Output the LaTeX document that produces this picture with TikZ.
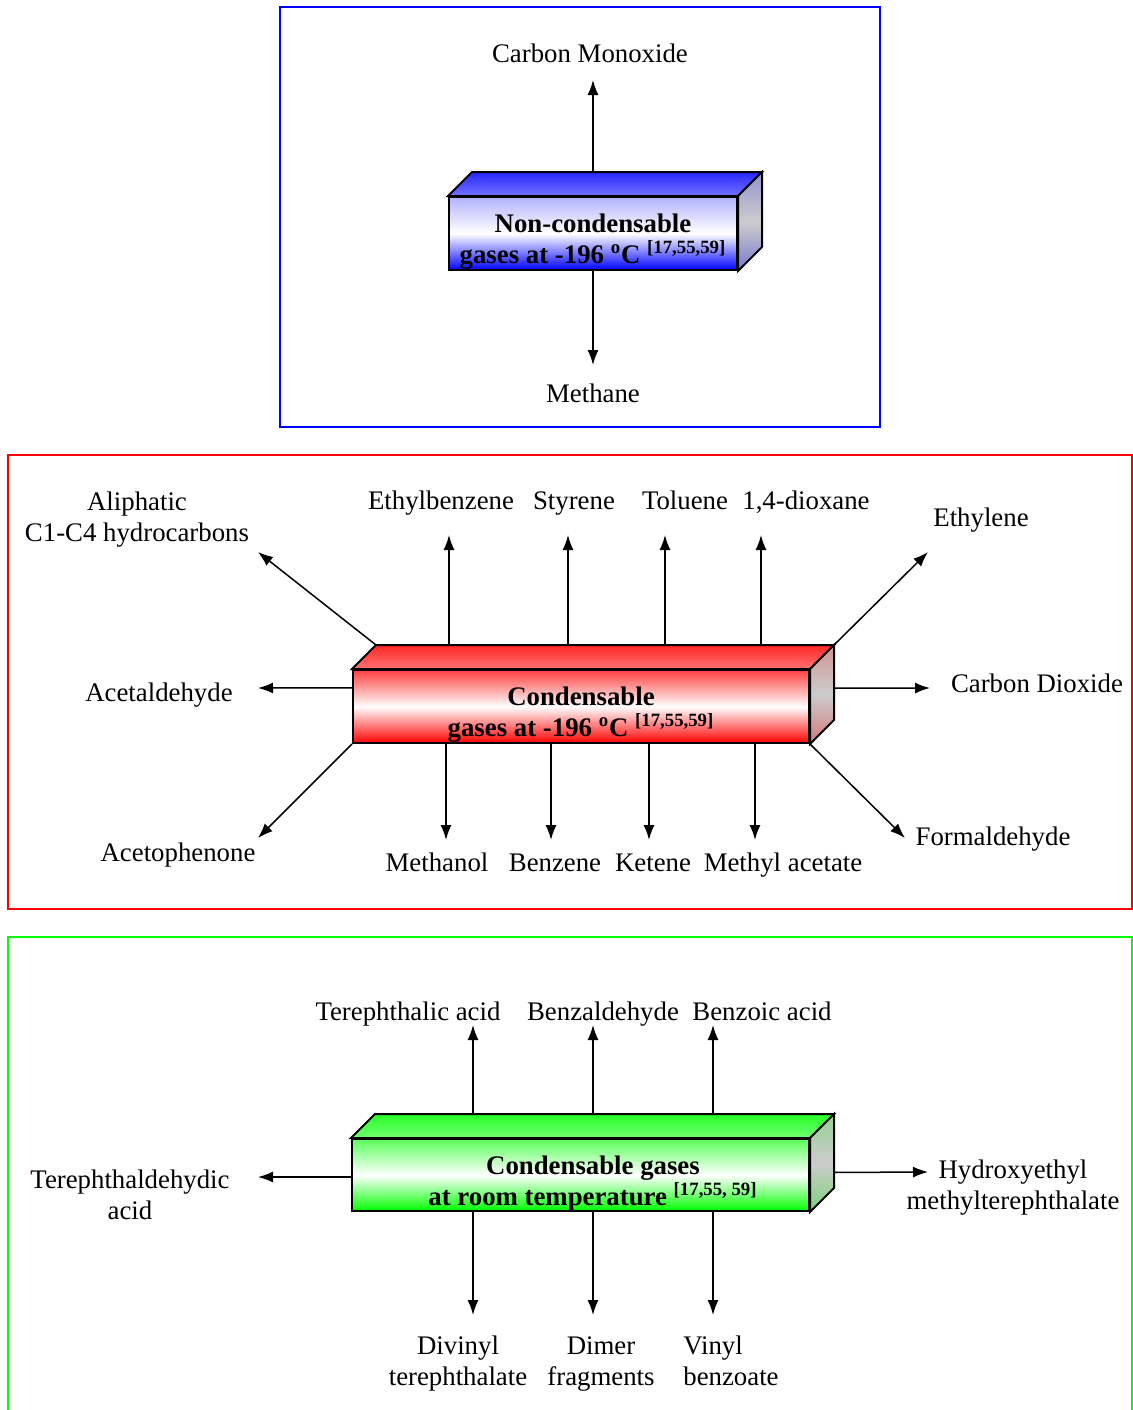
\documentclass[tikz,border=0pt]{standalone}
\usepackage{fontspec}
\setmainfont{Liberation Serif}
\usetikzlibrary{arrows.meta, calc}
\newcommand{\lDeg}{\textsuperscript{o}C}
\newcommand{\lRef}{\textsuperscript{[17,55,59]}}

\begin{document}
\begin{tikzpicture} [
        x=0.5pt, y=-0.5pt,
        font=\fontsize{13.4}{15.5}\selectfont,
        frame/.style={draw=#1, line width=1.25pt},
        face/.style args={#1/#2}{draw, line width=1pt, inner sep=0,
            top color=#1!#2, bottom color=#1, middle color=white},
        boxtxt/.style={font=\fontsize{13.4}{15.5}\selectfont\bfseries, align=center, inner sep=0},
        lab/.style={align=center, inner sep=0},
        slab/.style={lab, text height=.7em, text depth=.22em, yshift=-1pt},
        arr/.style={-{Latex[length=7.5pt,width=5.5pt]}, line width=0.75pt}
    ]

    \useasboundingbox (0,0) rectangle (1133,1410);

    % the three frames
    \draw[frame=blue] (280,7) rectangle (880,427);
    \draw[frame=red] (8,455) rectangle (1132,909);
    \draw[frame=green] (8,937) rectangle (1132,1430);

    % front faces of the boxes
    \node[face=blue/30, minimum width=144pt, minimum height=36.5pt] (nc) at (593,233.5) {};
    \node[face=red/75, minimum width=228pt, minimum height=36.5pt] (cd) at (581,706.5) {};
    \node[face=green/65, minimum width=228.5pt, minimum height=36pt] (rt) at (580.5,1175) {};

    \foreach \b/\c in {nc/blue, cd/red, rt/green} {
        \coordinate (\b-bnw) at ($(\b.north west)+(24,-24)$);
        \coordinate (\b-bne) at ($(\b.north east)+(24,-24)$);
        \coordinate (\b-bse) at ($(\b.south east)+(24,-24)$);
        \draw[line width=1pt, top color=\c!85, bottom color=\c!55]
            (\b.north west) -- (\b-bnw) -- (\b-bne) -- (\b.north east) -- cycle;
        \draw[line width=1pt, top color=\c!40!gray!60!white,
              bottom color=\c!50!gray!70!white, middle color=gray!40]
            (\b.north east) -- (\b-bne) -- (\b-bse) -- (\b.south east) -- cycle;
    }

    \node[boxtxt] (nc-t) at (593,242) {Non-condensable\\gases at -196 \lDeg{} \lRef};
    \node[boxtxt] (cd-t) at (581,715) {Condensable\\gases at -196 \lDeg{} \lRef};
    \node[boxtxt] (rt-t) at (593,1184) {Condensable gases\\at room temperature \textsuperscript{[17,55, 59]}};

    % non-condensable
    \node[slab] (co) at (590,55.5) {Carbon Monoxide};
    \node[slab] (me) at (593,395.5) {Methane};
    \coordinate (co-tip) at (593,80);
    \coordinate (me-tip) at (593,365);
    \draw[arr] (nc |- nc-bnw) -- (co-tip);
    \draw[arr] (nc.south) -- (me-tip);

    % condensable at -196
    \foreach \x/\n/\lx/\t in {449/eb/441/Ethylbenzene, 568/sty/574/Styrene,
                              665/tol/685/Toluene, 761/dx/806/{1,4-dioxane}} {
        \node[slab] (\n) at (\lx,502.5) {\t};
        \coordinate (\n-tip) at (\x,535);
        \draw[arr] (\x,0 |- cd-bnw) -- (\n-tip);
    }
    \foreach \x/\n/\lx/\t in {446/mol/437/Methanol, 551/bz/555/Benzene,
                              649/ket/653/Ketene, 755/ma/783/{Methyl acetate}} {
        \node[slab] (\n) at (\lx,864.5) {\t};
        \coordinate (\n-tip) at (\x,840);
        \draw[arr] (\x,0 |- cd.south) -- (\n-tip);
    }

    \node[lab] (ali) at (137,520) {Aliphatic\\C1-C4 hydrocarbons};
    \node[slab] (eth) at (981,519.5) {Ethylene};
    \node[slab] (acd) at (159,694.5) {Acetaldehyde};
    \node[slab] (cdx) at (1037,685.5) {Carbon Dioxide};
    \node[slab] (acp) at (178,854.5) {Acetophenone};
    \node[slab] (frm) at (993,838.5) {Formaldehyde};

    \coordinate (ali-tip) at (258,552);
    \coordinate (eth-tip) at (928,552);
    \coordinate (acd-tip) at (258,688);
    \coordinate (cdx-tip) at (930,688);
    \coordinate (acp-tip) at (258,838);
    \coordinate (frm-tip) at (905,838);

    \draw[arr] (cd-bnw) -- (ali-tip);
    \draw[arr] (cd-bne) -- (eth-tip);
    \draw[arr] ($(cd.north west)!.25!(cd.south west)$) -- (acd-tip);
    \draw[arr] ($(cd-bne)!.575!(cd-bse)$) -- (cdx-tip);
    \draw[arr] (cd.south west) -- (acp-tip);
    \draw[arr] (cd.south east) -- (frm-tip);

    % condensable at room temperature
    \foreach \x/\n/\lx/\t in {473/tpa/408/{Terephthalic acid}, 593/bza/603/Benzaldehyde,
                              713/bzo/762/{Benzoic acid}} {
        \node[slab] (\n) at (\lx,1013.5) {\t};
        \coordinate (\n-tip) at (\x,1025);
        \draw[arr] (\x,0 |- rt-bnw) -- (\n-tip);
    }
    \foreach \x/\n/\lx/\t in {473/dvt/458/{Divinyl\\terephthalate}, 593/dim/601/{Dimer\\fragments}} {
        \node[lab] (\n) at (\lx,1364) {\t};
        \coordinate (\n-tip) at (\x,1315);
        \draw[arr] (\x,0 |- rt.south) -- (\n-tip);
    }
    \node[lab, align=left] (vb) at (731,1361) {Vinyl\\benzoate};
    \coordinate (vb-tip) at (713,1315);
    \draw[arr] (713,0 |- rt.south) -- (vb-tip);

    \node[lab] (tda) at (130,1195) {Terephthaldehydic\\acid};
    \node[lab] (hem) at (1013,1188) {Hydroxyethyl\\methylterephthalate};
    \coordinate (tda-tip) at (258,1177);
    \coordinate (hem-tip) at (928,1172);
    \draw[arr] (rt.west |- tda-tip) -- (tda-tip);
    \draw[arr] ($(rt-bne)!.79!(rt-bse)$) -- (hem-tip);

\end{tikzpicture}
\end{document}
